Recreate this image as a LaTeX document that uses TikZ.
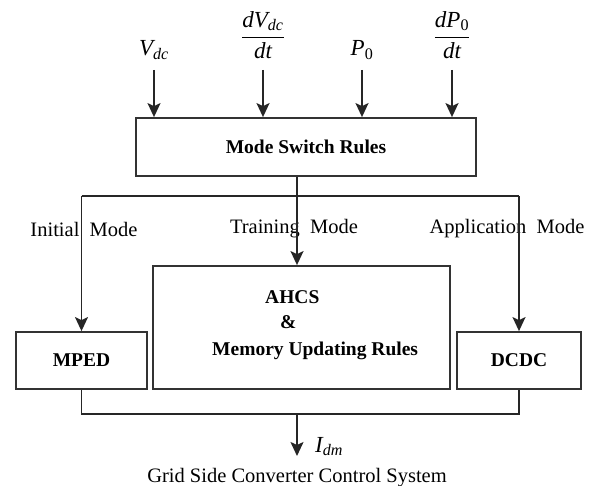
\RequirePackage{fix-cm}
\documentclass[tikz,border=0pt]{standalone}
\usepackage{amsmath}
\usepackage{fontspec}
\setmainfont{Liberation Serif}
\usepackage{tikz}
\usetikzlibrary{arrows.meta,calc}

\begin{document}
\begin{tikzpicture}[x=1pt, y=-1pt,
  blk/.style={draw=black!80, line width=1.8pt, inner sep=0pt, font=\fontsize{19.5}{23}\selectfont\bfseries},
  txt/.style={inner sep=0pt, font=\fontsize{19.5}{23}\selectfont\bfseries},
  lbl/.style={inner sep=0pt, font=\fontsize{20.5}{24}\selectfont},
  sig/.style={inner sep=1pt, font=\fontsize{23}{27}\selectfont},
  arr/.style={-{Stealth[length=14pt, width=13pt, inset=3pt]}, line width=1.7pt, draw=black!85},
  wire/.style={line width=1.7pt, draw=black!85}
]
\useasboundingbox (0,0) rectangle (594,486);
\node[sig, anchor=base] (vdc)  at (154,56) {$\textit{V}_{\textit{dc}}$};
\node[sig] (dvdc) at (263,35) {$\dfrac{\textit{dV}_{\textit{dc}}}{\textit{dt}}$};
\node[sig, anchor=base] (p0)   at (362,56) {$\textit{P}_{\textrm{0}}$};
\node[sig] (dp0)  at (452,35) {$\dfrac{\textit{dP}_{\textrm{0}}}{\textit{dt}}$};
\node[blk, minimum width=340pt, minimum height=58pt] (msr) at (306,147) {Mode Switch Rules};
\node[blk, minimum width=297pt, minimum height=123pt] (ahcs) at (301.5,327.5) {};
\node[txt, anchor=base west] (ahcsA) at (265,303) {AHCS};
\node[txt, anchor=base west] (ahcsB) at (280,328) {\&};
\node[txt, anchor=base west] (ahcsC) at (212,355) {Memory Updating Rules};
\node[blk, minimum width=131pt, minimum height=57pt] (mped) at (81.5,360.5) {MPED};
\node[blk, minimum width=124pt, minimum height=57pt] (dcdc) at (519,360.5) {DCDC};
\node[lbl] (init)  at (84,229)  {Initial\ \ Mode};
\node[lbl] (train) at (294,229) {Training\ \ Mode};
\node[lbl] (appl)  at (507,229) {Application\ \ Mode};
\node[sig, anchor=base west] (idm) at (314,452) {$\textit{I}_{\textit{dm}}$};
\node[lbl, anchor=base] (gscs) at (297,482) {Grid Side Converter Control System};
\coordinate (top)  at (0,70);
\coordinate (hub)  at (297,196);
\coordinate (join) at (297,414);
\coordinate (out)  at (297,456);
\draw[arr] (vdc |- top) -- (vdc |- msr.north);
\draw[arr] (dvdc |- top) -- (dvdc |- msr.north);
\draw[arr] (p0 |- top) -- (p0 |- msr.north);
\draw[arr] (dp0 |- top) -- (dp0 |- msr.north);
\draw[arr] (msr.south -| hub) -- (ahcs.north -| hub);
\draw[wire] (mped.north |- hub) -- (dcdc.north |- hub);
\draw[arr] (mped.north |- hub) -- (mped.north);
\draw[arr] (dcdc.north |- hub) -- (dcdc.north);
\draw[wire] (mped.south) |- (join) -| (dcdc.south);
\draw[arr] (join) -- (out);
\end{tikzpicture}
\end{document}
